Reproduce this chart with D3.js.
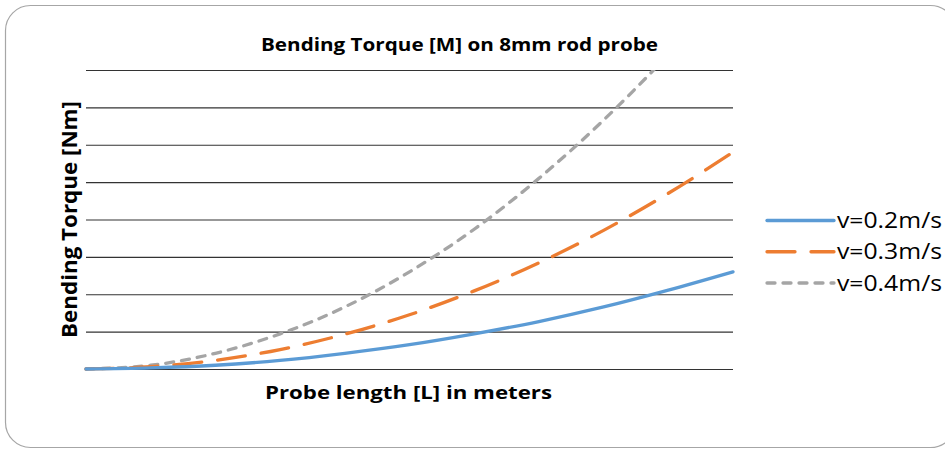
<!DOCTYPE html>
<html lang="en">
<head>
  <meta charset="UTF-8">
  <title>Bending Torque [M] on 8mm rod probe</title>
  <script src="https://d3js.org/d3.v7.min.js"></script>
  <style>
    body, html {
      margin: 0;
      padding: 0;
      background: #fff;
      overflow: hidden;
    }
    svg {
      display: block;
    }
    text {
      font-family: "Open Sans", "Noto Sans", sans-serif;
      fill: #000;
    }
  </style>
</head>
<body>
  <svg id="chart" width="945" height="449"></svg>

  <script>
    // probe length (fraction of full length) and torque per speed
    const lengths = [0, 0.1, 0.2, 0.3, 0.4, 0.5, 0.6, 0.7, 0.8, 0.9, 1.0];
    const torque02 = [0, 0.03, 0.10, 0.23, 0.42, 0.65, 0.94, 1.27, 1.66, 2.11, 2.60];
    const torque03 = [0, 0.06, 0.23, 0.52, 0.93, 1.45, 2.09, 2.84, 3.71, 4.70, 5.80];
    const torque04 = [0, 0.10, 0.42, 0.94, 1.66, 2.60, 3.74, 5.10, 6.66, 8.42, 10.40];
    const seriesNames = ["v=0.2m/s", "v=0.3m/s", "v=0.4m/s"];
    const yTicks = [0, 1, 2, 3, 4, 5, 6, 7, 8];

    const series = [
      { name: seriesNames[0], values: torque02, color: "#5b9bd5", dash: null },
      { name: seriesNames[1], values: torque03, color: "#ed7d31", dash: "28,16" },
      { name: seriesNames[2], values: torque04, color: "#a5a5a5", dash: "8,8" }
    ];

    const svg = d3.select("#chart");

    // outer chart border
    svg.append("rect")
      .attr("x", 5.5)
      .attr("y", 5.5)
      .attr("width", 950)
      .attr("height", 442)
      .attr("rx", 25)
      .attr("fill", "#fff")
      .attr("stroke", "#a6a6a6")
      .attr("stroke-width", 1.2);

    const plot = { left: 86, right: 733, top: 70, bottom: 369 };

    const x = d3.scaleLinear().domain([0, 1]).range([plot.left, plot.right]);
    const y = d3.scaleLinear().domain([0, 8]).range([plot.bottom, plot.top]);

    // horizontal gridlines
    svg.append("g")
      .attr("transform", `translate(${plot.left},0)`)
      .call(d3.axisLeft(y)
        .tickValues(yTicks)
        .tickSize(-(plot.right - plot.left))
        .tickFormat(""))
      .call(g => g.select(".domain").remove())
      .call(g => g.selectAll(".tick line")
        .attr("stroke", "#333")
        .attr("stroke-width", 1.1));

    svg.append("clipPath")
      .attr("id", "plot-clip")
      .append("rect")
      .attr("x", plot.left - 4)
      .attr("y", plot.top)
      .attr("width", plot.right - plot.left + 8)
      .attr("height", plot.bottom - plot.top + 4);

    const line = d3.line()
      .x((d, i) => x(lengths[i]))
      .y(d => y(d))
      .curve(d3.curveMonotoneX);

    // draw in reverse so blue sits on top
    svg.append("g")
      .attr("clip-path", "url(#plot-clip)")
      .selectAll("path")
      .data(series.slice().reverse())
      .join("path")
      .attr("d", d => line(d.values))
      .attr("fill", "none")
      .attr("stroke", d => d.color)
      .attr("stroke-width", 3.3)
      .attr("stroke-linecap", "round")
      .attr("stroke-dasharray", d => d.dash);

    // title
    svg.append("text")
      .attr("x", 261)
      .attr("y", 51)
      .attr("font-size", 18.5)
      .attr("font-weight", "bold")
      .attr("textLength", 397)
      .attr("lengthAdjust", "spacingAndGlyphs")
      .text("Bending Torque [M] on 8mm rod probe");

    // x axis label
    svg.append("text")
      .attr("x", 265)
      .attr("y", 399)
      .attr("font-size", 18.5)
      .attr("font-weight", "bold")
      .attr("textLength", 287)
      .attr("lengthAdjust", "spacingAndGlyphs")
      .text("Probe length [L] in meters");

    // y axis label
    svg.append("text")
      .attr("transform", "translate(77,338) scale(1.15,1) rotate(-90)")
      .attr("font-size", 18.5)
      .attr("font-weight", "bold")
      .attr("textLength", 237)
      .attr("lengthAdjust", "spacingAndGlyphs")
      .text("Bending Torque [Nm]");

    // legend
    const legendY = d3.scalePoint().domain(seriesNames).range([220.5, 283]);
    const legend = svg.append("g")
      .selectAll("g")
      .data(series)
      .join("g")
      .attr("transform", d => `translate(0,${legendY(d.name)})`);

    legend.append("line")
      .attr("x1", 767)
      .attr("x2", 834)
      .attr("stroke", d => d.color)
      .attr("stroke-width", 3.3)
      .attr("stroke-linecap", "round")
      .attr("stroke-dasharray", d => d.dash);

    legend.append("text")
      .attr("x", 837)
      .attr("y", 7.5)
      .attr("font-size", 21)
      .attr("textLength", 105)
      .attr("lengthAdjust", "spacingAndGlyphs")
      .text(d => d.name);
  </script>
</body>
</html>
